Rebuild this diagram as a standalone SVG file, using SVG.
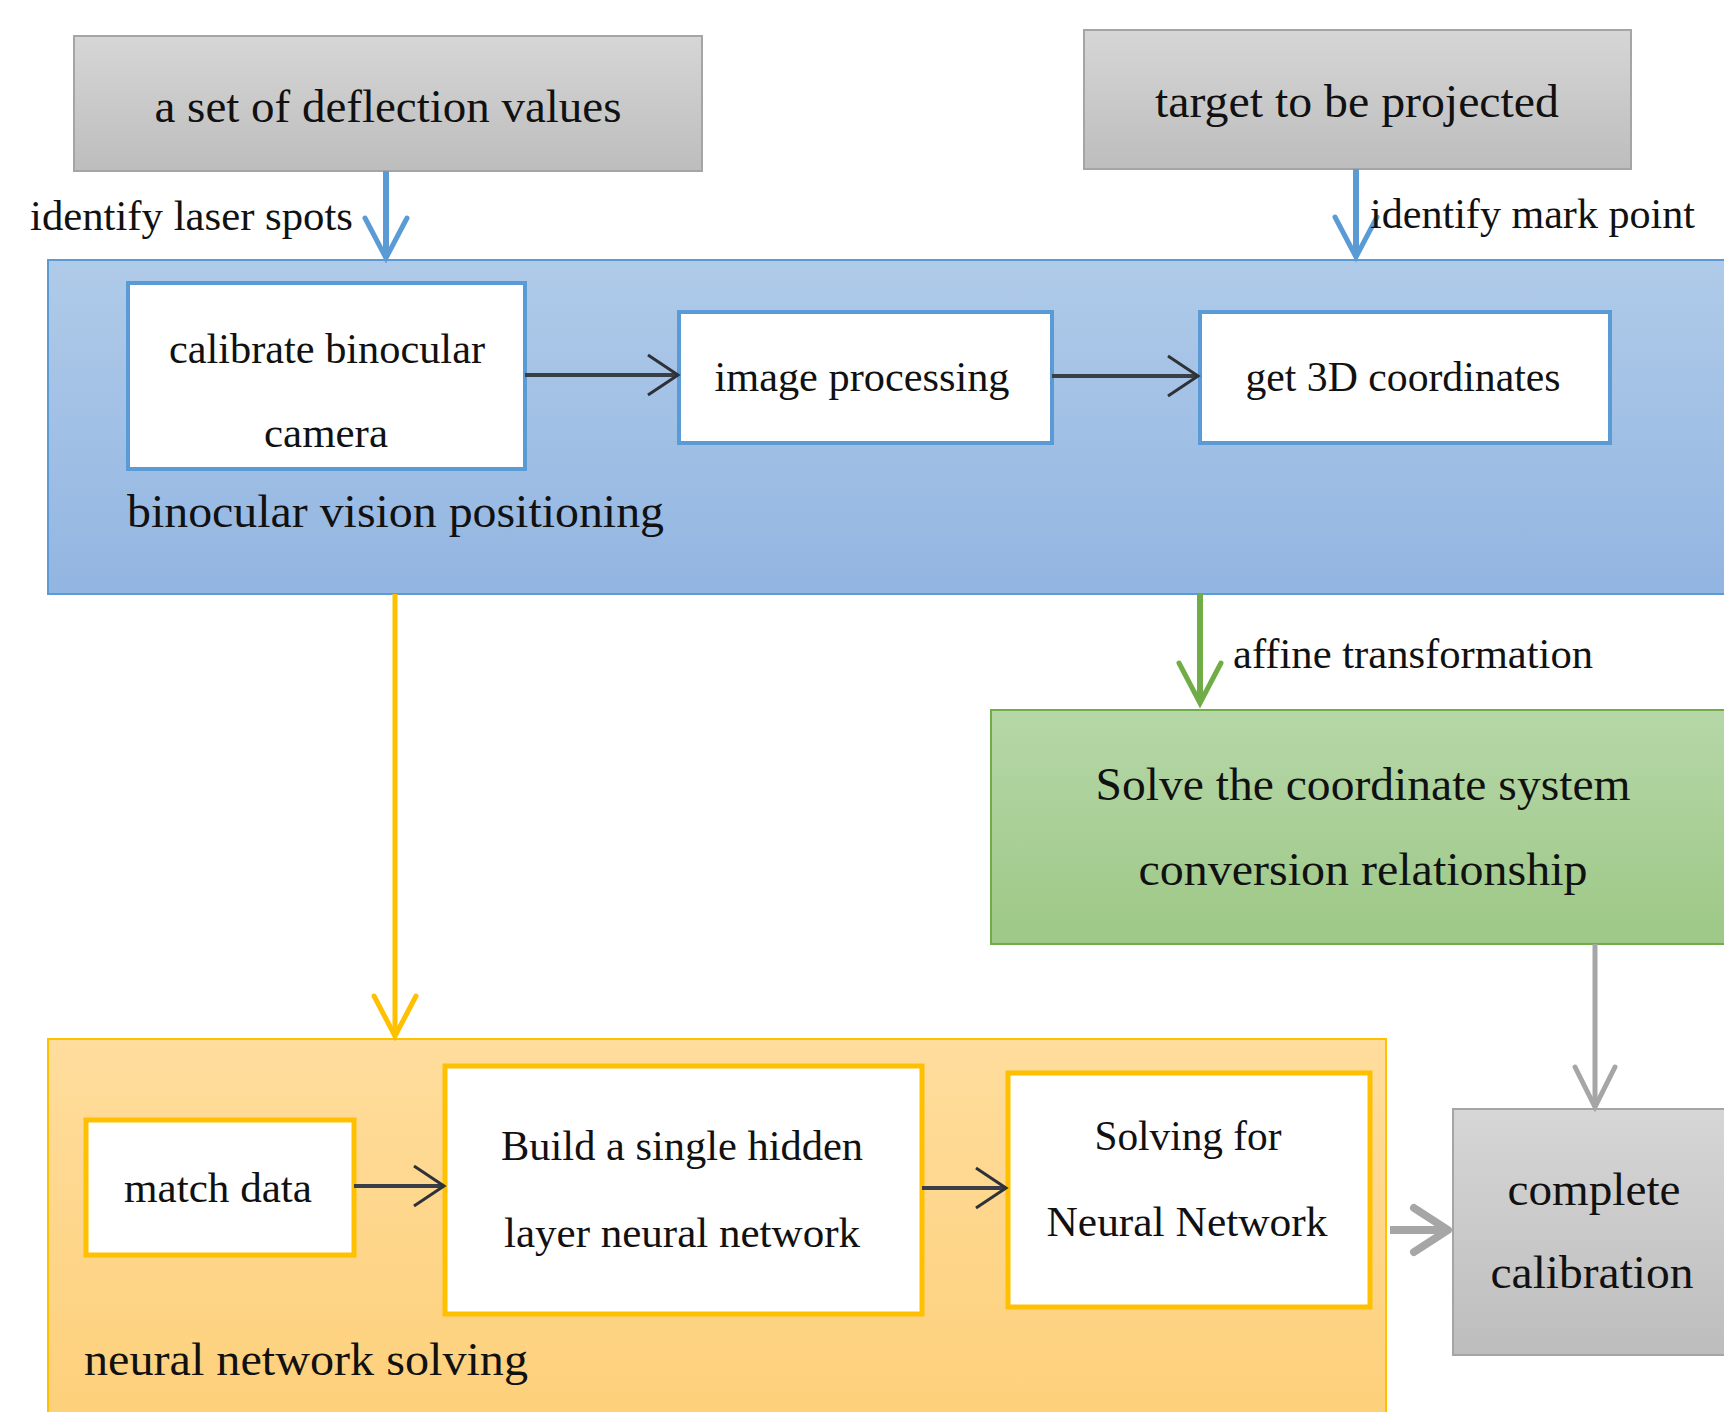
<svg xmlns="http://www.w3.org/2000/svg" width="1724" height="1412" viewBox="0 0 1724 1412">
  <defs>
    <linearGradient id="g-gray" x1="0" y1="0" x2="0" y2="1">
      <stop offset="0" stop-color="#d6d6d6"/>
      <stop offset="1" stop-color="#bdbdbd"/>
    </linearGradient>
    <linearGradient id="g-blue" x1="0" y1="0" x2="0" y2="1">
      <stop offset="0" stop-color="#b0cbe9"/>
      <stop offset="1" stop-color="#92b5e1"/>
    </linearGradient>
    <linearGradient id="g-green" x1="0" y1="0" x2="0" y2="1">
      <stop offset="0" stop-color="#b6d7a8"/>
      <stop offset="1" stop-color="#9dc886"/>
    </linearGradient>
    <linearGradient id="g-yellow" x1="0" y1="0" x2="0" y2="1">
      <stop offset="0" stop-color="#ffdd9d"/>
      <stop offset="1" stop-color="#fdcf78"/>
    </linearGradient>
    <marker id="m-blue" markerUnits="userSpaceOnUse" markerWidth="50" markerHeight="50" refX="44" refY="24" orient="auto" overflow="visible">
      <path d="M4,3 L44,24 L4,45" fill="none" stroke="#5b9bd5" stroke-width="5" stroke-linecap="round"/>
    </marker>
    <marker id="m-green" markerUnits="userSpaceOnUse" markerWidth="50" markerHeight="50" refX="44" refY="24" orient="auto" overflow="visible">
      <path d="M4,3 L44,24 L4,45" fill="none" stroke="#70ad47" stroke-width="5" stroke-linecap="round"/>
    </marker>
    <marker id="m-yellow" markerUnits="userSpaceOnUse" markerWidth="50" markerHeight="50" refX="44" refY="24" orient="auto" overflow="visible">
      <path d="M4,3 L44,24 L4,45" fill="none" stroke="#ffc000" stroke-width="5" stroke-linecap="round"/>
    </marker>
    <marker id="m-gray" markerUnits="userSpaceOnUse" markerWidth="50" markerHeight="50" refX="44" refY="24" orient="auto" overflow="visible">
      <path d="M4,4 L44,24 L4,44" fill="none" stroke="#a6a6a6" stroke-width="5" stroke-linecap="round"/>
    </marker>
    <marker id="m-gray-thick" markerUnits="userSpaceOnUse" markerWidth="50" markerHeight="60" refX="40" refY="26" orient="auto" overflow="visible">
      <path d="M6,4 L40,26 L6,48" fill="none" stroke="#a6a6a6" stroke-width="8" stroke-linecap="round" stroke-linejoin="round"/>
    </marker>
    <marker id="m-dark" markerUnits="userSpaceOnUse" markerWidth="40" markerHeight="46" refX="32" refY="22" orient="auto" overflow="visible">
      <path d="M2,2 L32,22 L2,42" fill="none" stroke="#2e3238" stroke-width="3"/>
    </marker>
  </defs>
  <style>
    text { font-family: "Liberation Serif", "Times New Roman", serif; fill: #111; }
    .big { font-size: 47px; }
    .mid { font-size: 42px; }
    .c { text-anchor: middle; }
    .gray { fill: url(#g-gray); stroke: #a5a5a5; stroke-width: 2; }
    .inner-blue { fill: #ffffff; stroke: #5b9bd5; stroke-width: 4; }
    .inner-yellow { fill: #ffffff; stroke: #ffc000; stroke-width: 5; }
    .conn { fill: none; }
    .c-blue { stroke: #5b9bd5; stroke-width: 6; }
    .c-green { stroke: #70ad47; stroke-width: 6; }
    .c-yellow { stroke: #ffc000; stroke-width: 5; }
    .c-gray { stroke: #a6a6a6; stroke-width: 5; }
    .c-gray-thick { stroke: #a6a6a6; stroke-width: 8; }
    .c-dark { stroke: #3a3f47; stroke-width: 4; }
  </style>

  <rect width="1724" height="1412" fill="#ffffff"/>

  <!-- input boxes -->
  <g id="deflection-values">
    <rect class="gray" x="74" y="36" width="628" height="135"/>
    <text class="big c" x="388" y="122" textLength="467" lengthAdjust="spacingAndGlyphs">a set of deflection values</text>
  </g>
  <g id="target-projected">
    <rect class="gray" x="1084" y="30" width="547" height="139"/>
    <text class="big c" x="1357" y="117" textLength="404" lengthAdjust="spacingAndGlyphs">target to be projected</text>
  </g>

  <!-- binocular vision positioning stage -->
  <g id="binocular-vision">
    <rect x="48" y="260" width="1700" height="334" fill="url(#g-blue)" stroke="#5b9bd5" stroke-width="2"/>
    <text class="big" x="127" y="527" textLength="537" lengthAdjust="spacingAndGlyphs">binocular vision positioning</text>
  </g>
  <g id="calibrate-camera">
    <rect class="inner-blue" x="128" y="283" width="397" height="186"/>
    <text class="mid c" x="327" y="363" textLength="316" lengthAdjust="spacingAndGlyphs">calibrate binocular</text>
    <text class="mid c" x="326" y="447" textLength="124" lengthAdjust="spacingAndGlyphs">camera</text>
  </g>
  <g id="image-processing">
    <rect class="inner-blue" x="679" y="312" width="373" height="131"/>
    <text class="mid c" x="862" y="391" textLength="295" lengthAdjust="spacingAndGlyphs">image processing</text>
  </g>
  <g id="get-3d-coordinates">
    <rect class="inner-blue" x="1200" y="312" width="410" height="131"/>
    <text class="mid c" x="1403" y="391" textLength="315" lengthAdjust="spacingAndGlyphs">get 3D coordinates</text>
  </g>

  <!-- coordinate conversion -->
  <g id="coordinate-conversion">
    <rect x="991" y="710" width="760" height="234" fill="url(#g-green)" stroke="#70ad47" stroke-width="2"/>
    <text class="big c" x="1363" y="800" textLength="535" lengthAdjust="spacingAndGlyphs">Solve the coordinate system</text>
    <text class="big c" x="1363" y="885" textLength="449" lengthAdjust="spacingAndGlyphs">conversion relationship</text>
  </g>

  <!-- neural network solving stage -->
  <g id="neural-network-solving">
    <rect x="48" y="1039" width="1338" height="400" fill="url(#g-yellow)" stroke="#ffc000" stroke-width="2"/>
    <text class="big" x="84" y="1375" textLength="444" lengthAdjust="spacingAndGlyphs">neural network solving</text>
  </g>
  <g id="match-data">
    <rect class="inner-yellow" x="86" y="1120" width="268" height="135"/>
    <text class="mid c" x="218" y="1202" textLength="188" lengthAdjust="spacingAndGlyphs">match data</text>
  </g>
  <g id="build-network">
    <rect class="inner-yellow" x="445" y="1066" width="477" height="248"/>
    <text class="mid c" x="682" y="1160" textLength="362" lengthAdjust="spacingAndGlyphs">Build a single hidden</text>
    <text class="mid c" x="682" y="1247" textLength="356" lengthAdjust="spacingAndGlyphs">layer neural network</text>
  </g>
  <g id="solve-network">
    <rect class="inner-yellow" x="1008" y="1073" width="362" height="234"/>
    <text class="mid c" x="1188" y="1150" textLength="187" lengthAdjust="spacingAndGlyphs">Solving for</text>
    <text class="mid c" x="1187" y="1236" textLength="281" lengthAdjust="spacingAndGlyphs">Neural Network</text>
  </g>

  <!-- result -->
  <g id="complete-calibration">
    <rect class="gray" x="1453" y="1109" width="300" height="246"/>
    <text class="big c" x="1594" y="1205" textLength="173" lengthAdjust="spacingAndGlyphs">complete</text>
    <text class="big c" x="1592" y="1288" textLength="203" lengthAdjust="spacingAndGlyphs">calibration</text>
  </g>

  <!-- connectors -->
  <g id="connectors">
    <line class="conn c-blue" x1="386" y1="171" x2="386" y2="258" marker-end="url(#m-blue)"/>
    <text class="mid" x="30" y="230" textLength="323" lengthAdjust="spacingAndGlyphs">identify laser spots</text>

    <line class="conn c-blue" x1="1356" y1="169" x2="1356" y2="257" marker-end="url(#m-blue)"/>
    <text class="mid" x="1370" y="228" textLength="325" lengthAdjust="spacingAndGlyphs">identify mark point</text>

    <line class="conn c-dark" x1="525" y1="375" x2="678" y2="375" marker-end="url(#m-dark)"/>
    <line class="conn c-dark" x1="1052" y1="376" x2="1198" y2="376" marker-end="url(#m-dark)"/>

    <line class="conn c-yellow" x1="395" y1="594" x2="395" y2="1036" marker-end="url(#m-yellow)"/>

    <line class="conn c-green" x1="1200" y1="594" x2="1200" y2="703" marker-end="url(#m-green)"/>
    <text class="mid" x="1233" y="668" textLength="360" lengthAdjust="spacingAndGlyphs">affine transformation</text>

    <line class="conn c-gray" x1="1595" y1="944" x2="1595" y2="1107" marker-end="url(#m-gray)"/>

    <line class="conn c-dark" x1="354" y1="1186" x2="444" y2="1186" marker-end="url(#m-dark)"/>
    <line class="conn c-dark" x1="922" y1="1188" x2="1006" y2="1188" marker-end="url(#m-dark)"/>

    <line class="conn c-gray-thick" x1="1390" y1="1230" x2="1448" y2="1230" marker-end="url(#m-gray-thick)"/>
  </g>
</svg>
